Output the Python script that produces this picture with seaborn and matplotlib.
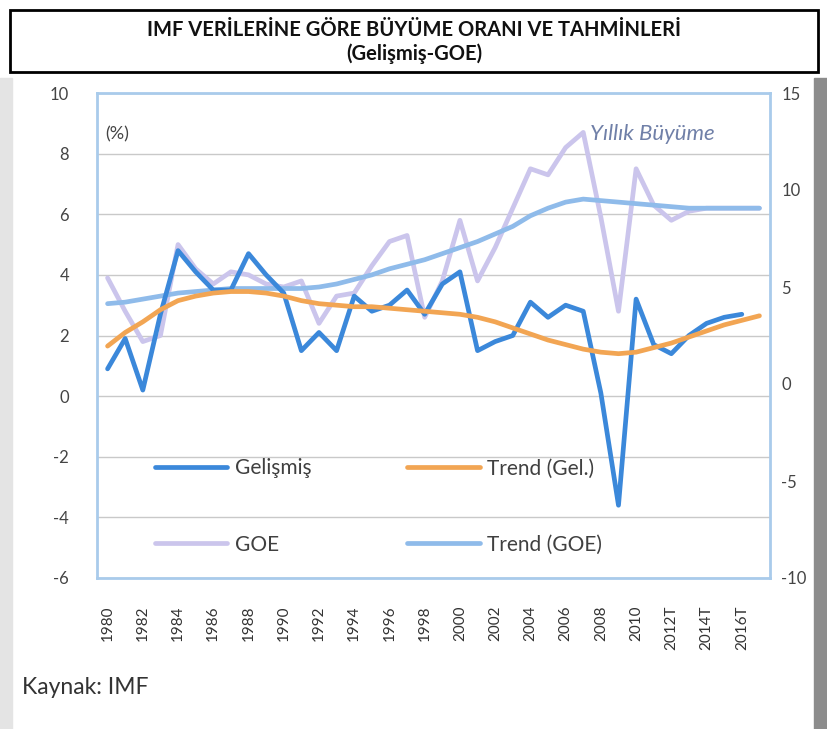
import matplotlib
matplotlib.use("Agg")
import matplotlib.pyplot as plt
import seaborn as sns
import pandas as pd
import numpy as np
from matplotlib.patches import Rectangle

# --- data ---
years = list(range(1980, 2018))

gelismis = [0.9, 1.9, 0.2, 2.7, 4.8, 4.1, 3.5, 3.5, 4.7, 4.0,
            3.4, 1.5, 2.1, 1.5, 3.3, 2.8, 3.0, 3.5, 2.7, 3.7,
            4.1, 1.5, 1.8, 2.0, 3.1, 2.6, 3.0, 2.8, 0.1, -3.6,
            3.2, 1.7, 1.4, 2.0, 2.4, 2.6, 2.7, np.nan]

goe = [3.9, 2.8, 1.8, 2.0, 5.0, 4.2, 3.7, 4.1, 4.0, 3.7,
       3.6, 3.8, 2.4, 3.3, 3.4, 4.3, 5.1, 5.3, 2.6, 3.8,
       5.8, 3.8, 4.9, 6.2, 7.5, 7.3, 8.2, 8.7, 5.9, 2.8,
       7.5, 6.3, 5.8, 6.1, 6.2, 6.2, 6.2, 6.2]

trend_gel = [1.65, 2.1, 2.45, 2.85, 3.15, 3.3, 3.4, 3.45, 3.45, 3.4,
             3.3, 3.15, 3.05, 3.0, 2.95, 2.95, 2.9, 2.85, 2.8, 2.75,
             2.7, 2.6, 2.45, 2.25, 2.05, 1.85, 1.7, 1.55, 1.45, 1.4,
             1.45, 1.6, 1.75, 1.95, 2.15, 2.35, 2.5, 2.65]

trend_goe = [3.05, 3.1, 3.2, 3.3, 3.4, 3.45, 3.5, 3.55, 3.55, 3.55,
             3.55, 3.55, 3.6, 3.7, 3.85, 4.0, 4.2, 4.35, 4.5, 4.7,
             4.9, 5.1, 5.35, 5.6, 5.95, 6.2, 6.4, 6.5, 6.45, 6.4,
             6.35, 6.3, 6.25, 6.2, 6.2, 6.2, 6.2, 6.2]

tick_years = list(range(1980, 2017, 2))
tick_labels = [str(y) + ("T" if y >= 2012 else "") for y in tick_years]

df = pd.DataFrame({"year": years, "Gelişmiş": gelismis, "GOE": goe,
                   "Trend (Gel.)": trend_gel, "Trend (GOE)": trend_goe})

sns.set_style("white")
plt.rcParams["font.family"] = ["Lato", "DejaVu Sans"]
plt.rcParams["axes.unicode_minus"] = False

fig = plt.figure(figsize=(8.28, 7.29), dpi=100)
ax = fig.add_axes([97 / 828, 1 - 578 / 729, 673 / 828, 485 / 729])

colors = {"GOE": "#CBC5EC", "Trend (GOE)": "#8FBBEA",
          "Gelişmiş": "#3B88DA", "Trend (Gel.)": "#F2A553"}

for name in ["GOE", "Trend (GOE)", "Gelişmiş", "Trend (Gel.)"]:
    sns.lineplot(data=df, x="year", y=name, ax=ax, color=colors[name],
                 linewidth=3.4, label=name, solid_capstyle="round")

ax.set_xlim(1979.4, 2017.6)
ax.set_ylim(-6, 10)
ax.set_yticks(range(-6, 11, 2))
ax.set_xticks(tick_years)
ax.set_xticklabels(tick_labels, rotation=90)
ax.set_xlabel("")
ax.set_ylabel("")
ax.grid(axis="y", color="#C9C9C9", linewidth=1)
for s in ax.spines.values():
    s.set_color("#A9CBEB")
    s.set_linewidth(2)
ax.tick_params(axis="y", length=0, pad=20, labelsize=12, labelcolor="#444444")
ax.tick_params(axis="x", length=0, pad=20, labelsize=11, labelcolor="#333333")

# secondary axis (labels only)
ax2 = ax.twinx()
ax2.set_ylim(-10, 15)
ax2.set_yticks(range(-10, 16, 5))
ax2.tick_params(axis="y", length=0, pad=8, labelsize=12, labelcolor="#444444")
for s in ax2.spines.values():
    s.set_visible(False)

ax.text(0.012, 0.915, "(%)", transform=ax.transAxes, fontsize=13,
        color="#444444", va="center")
ax.text(0.918, 0.915, "Yıllık Büyüme", transform=ax.transAxes, fontsize=16,
        color="#7080A8", style="italic", ha="right", va="center")

h, l = ax.get_legend_handles_labels()
order = [l.index(n) for n in ["Gelişmiş", "GOE", "Trend (Gel.)", "Trend (GOE)"]]
ax.legend([h[i] for i in order], [l[i] for i in order], ncol=2, frameon=False,
          loc="upper left", bbox_to_anchor=(0.07, 0.268), fontsize=15,
          handlelength=3.5, handletextpad=0.35, columnspacing=4.6,
          labelspacing=2.7, borderpad=0, labelcolor="#404040")

# title box
fig.patches.append(Rectangle((10 / 828, 1 - 72 / 729), 808 / 828, 62 / 729,
                             transform=fig.transFigure, fill=False,
                             edgecolor="black", linewidth=2))
fig.text(0.5, 1 - 30 / 729, "IMF VERİLERİNE GÖRE BÜYÜME ORANI VE TAHMİNLERİ",
         ha="center", va="center", fontsize=14.5, fontweight="bold", color="#111111")
fig.text(0.5, 1 - 54 / 729, "(Gelişmiş-GOE)", ha="center", va="center",
         fontsize=14.5, fontweight="bold", color="#111111")

# page edges
fig.patches.append(Rectangle((0, 0), 12 / 828, 1 - 78 / 729, transform=fig.transFigure,
                             color="#E4E4E4", zorder=-1))
fig.patches.append(Rectangle((814 / 828, 0), 14 / 828, 1 - 78 / 729,
                             transform=fig.transFigure, color="#8C8C8C", zorder=-1))

fig.text(22 / 828, 1 - 688 / 729, "Kaynak: IMF", fontsize=16.5, color="#333333",
         va="center")

fig.savefig("out.png", dpi=100)
